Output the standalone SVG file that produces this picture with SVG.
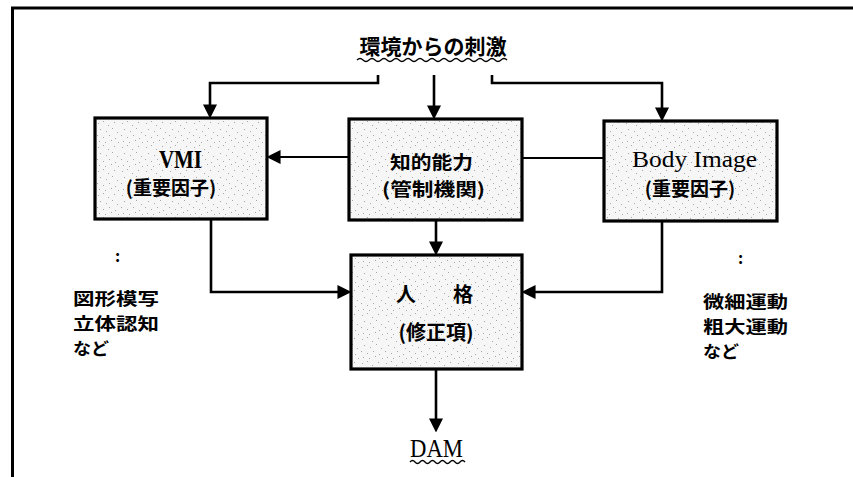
<svg xmlns="http://www.w3.org/2000/svg" width="853" height="477" viewBox="0 0 853 477">
<defs>
<style>
.box{fill:url(#stip);stroke:#000;stroke-width:3.2}
.jp{font-family:"Noto Sans CJK JP","Noto Sans CJK SC",sans-serif;font-weight:700;fill:#000}
.lat{font-family:"Liberation Serif","DejaVu Serif",serif;fill:#000}
.c{text-anchor:middle}
.ln{fill:none;stroke:#000;stroke-width:2.6}
.thin{fill:none;stroke:#000;stroke-width:1.8}
.wave{fill:none;stroke:#000;stroke-width:1.3}
</style>
<pattern id="stip" width="24" height="24" patternUnits="userSpaceOnUse">
<rect width="24" height="24" fill="#f6f6f6"/>
<g fill="#a8a8a8">
<rect x="2" y="3" width="1" height="1"/><rect x="7" y="1" width="1" height="1"/><rect x="12" y="5" width="1" height="1"/>
<rect x="18" y="2" width="1" height="1"/><rect x="4" y="9" width="1" height="1"/><rect x="10" y="11" width="1" height="1"/>
<rect x="16" y="8" width="1" height="1"/><rect x="21" y="12" width="1" height="1"/><rect x="1" y="15" width="1" height="1"/>
<rect x="7" y="17" width="1" height="1"/><rect x="13" y="15" width="1" height="1"/><rect x="19" y="18" width="1" height="1"/>
<rect x="3" y="21" width="1" height="1"/><rect x="9" y="22" width="1" height="1"/><rect x="15" y="20" width="1" height="1"/>
<rect x="22" y="22" width="1" height="1"/>
</g>
</pattern>
<marker id="ah" markerUnits="userSpaceOnUse" markerWidth="14" markerHeight="14" viewBox="0 0 13 13" refX="7" refY="6.5" orient="auto">
<path d="M0,0 L13,6.5 L0,13 Z" fill="#000"/>
</marker>
</defs>
<rect width="853" height="477" fill="#fff"/>
<path d="M12.5,477 V8 H853" fill="none" stroke="#000" stroke-width="3"/>

<g id="title">
<text class="jp c" x="433" y="54" font-size="21">環境からの刺激</text>
<path class="wave" d="M357,60 q3,-3 6,0 t6,0 t6,0 t6,0 t6,0 t6,0 t6,0 t6,0 t6,0 t6,0 t6,0 t6,0 t6,0 t6,0 t6,0 t6,0 t6,0 t6,0 t6,0 t6,0 t6,0 t6,0 t6,0 t6,0 t6,0"/>
</g>

<g id="connectors">
<path class="ln" d="M378,75 V83 H210 V112" marker-end="url(#ah)"/>
<path class="ln" d="M434,75 V113" marker-end="url(#ah)"/>
<path class="ln" d="M492,75 V83 H662 V115" marker-end="url(#ah)"/>
<path class="thin" d="M349,157 H273" marker-end="url(#ah)"/>
<path class="thin" d="M522,158 H604"/>
<path class="ln" d="M211,219 V292 H345" marker-end="url(#ah)"/>
<path class="ln" d="M662,221 V292 H528" marker-end="url(#ah)"/>
<path class="ln" d="M436,220 V249" marker-end="url(#ah)"/>
<path class="ln" d="M436,369 V426" marker-end="url(#ah)"/>
</g>

<g id="vmi">
<rect class="box" x="95" y="118" width="172" height="101"/>
<text class="lat" x="159" y="168" font-size="25" font-weight="700" textLength="43" lengthAdjust="spacingAndGlyphs">VMI</text>
<text class="jp c" x="171" y="195" font-size="19">(重要因子)</text>
</g>

<g id="chiteki">
<rect class="box" x="349" y="119" width="173" height="101"/>
<text class="jp" x="390" y="169" font-size="18" textLength="83" lengthAdjust="spacingAndGlyphs">知的能力</text>
<text class="jp" x="382" y="196" font-size="18" textLength="103" lengthAdjust="spacingAndGlyphs">(管制機関)</text>
</g>

<g id="body">
<rect class="box" x="604" y="121" width="173" height="100"/>
<text class="lat" x="632" y="167" font-size="24" textLength="125" lengthAdjust="spacingAndGlyphs">Body Image</text>
<text class="jp c" x="690" y="196" font-size="19">(重要因子)</text>
</g>

<g id="jinkaku">
<rect class="box" x="351" y="255" width="171" height="114"/>
<text class="jp" x="396" y="302" font-size="20">人</text>
<text class="jp" x="453" y="302" font-size="20">格</text>
<text class="jp c" x="436" y="340" font-size="20">(修正項)</text>
</g>

<g id="dam">
<text class="lat" x="410" y="457" font-size="25" textLength="53" lengthAdjust="spacingAndGlyphs">DAM</text>
<path class="wave" d="M410,462 q2.5,-3 5,0 t5,0 t5,0 t5,0 t5,0 t5,0 t5,0 t5,0 t5,0 t5,0 t5,0"/>
</g>

<g id="left-note">
<text class="jp" x="115" y="262" font-size="16">:</text>
<text class="jp" x="73" y="305" font-size="17" textLength="86" lengthAdjust="spacingAndGlyphs">図形模写</text>
<text class="jp" x="73" y="330" font-size="17" textLength="86" lengthAdjust="spacingAndGlyphs">立体認知</text>
<text class="jp" x="73" y="355" font-size="17" textLength="36" lengthAdjust="spacingAndGlyphs">など</text>
</g>

<g id="right-note">
<text class="jp" x="738" y="264" font-size="16">:</text>
<text class="jp" x="703" y="308" font-size="17" textLength="85" lengthAdjust="spacingAndGlyphs">微細運動</text>
<text class="jp" x="703" y="333" font-size="17" textLength="85" lengthAdjust="spacingAndGlyphs">粗大運動</text>
<text class="jp" x="703" y="358" font-size="17" textLength="36" lengthAdjust="spacingAndGlyphs">など</text>
</g>
</svg>
